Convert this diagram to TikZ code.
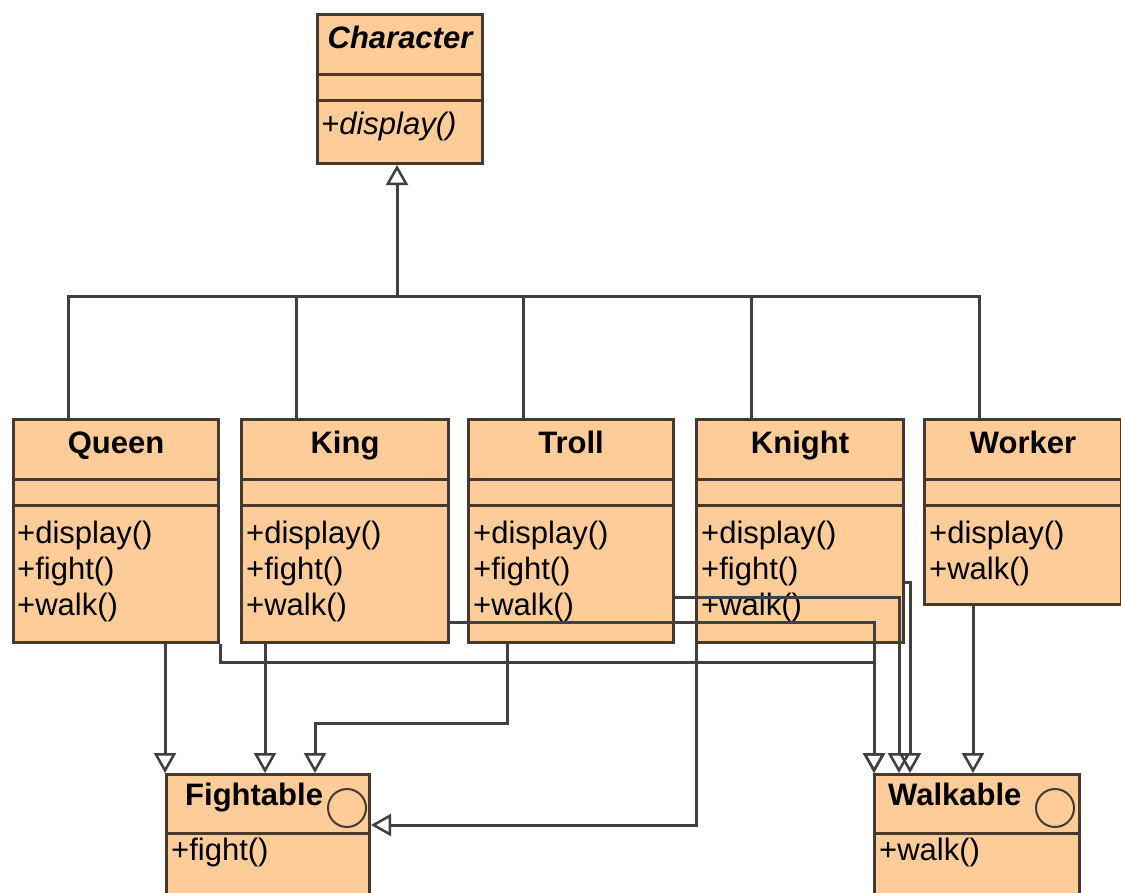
\documentclass[tikz,border=0pt]{standalone}
\usepackage{fontspec}
\setmainfont{Liberation Sans}
\usetikzlibrary{arrows.meta,calc}
\definecolor{classfill}{RGB}{253,204,153}
\definecolor{classline}{RGB}{70,58,48}
\definecolor{wire}{RGB}{64,64,64}

% a class box: name, x, y, width, height, title
\newcommand{\drawclass}[6]{%
  \node[classbox, minimum width=#4pt, minimum height=#5pt] (#1) at (#2,#3) {};
  \draw[sep] ($(#1.north west)+(0,61)$) -- ($(#1.north east)+(0,61)$);
  \draw[sep] ($(#1.north west)+(0,87)$) -- ($(#1.north east)+(0,87)$);
  \node[title] (#1-title) at ($(#1.north)+(0,35)$) {#6};
}

\begin{document}
\begin{tikzpicture}[x=1pt,y=-1pt,
  classbox/.style={draw=classline, fill=classfill, line width=3pt, rectangle, inner sep=0pt, anchor=north west},
  sep/.style={draw=classline, line width=3pt},
  title/.style={font=\fontsize{31}{36}\selectfont\bfseries, anchor=base, inner sep=0pt},
  member/.style={font=\fontsize{31}{36}\selectfont, anchor=base west, inner sep=0pt},
  wirestyle/.style={draw=wire, line width=3pt},
  inherit/.style={wirestyle, -{Triangle[open, length=20pt, width=22pt, line width=2.5pt]}},
  realize/.style={wirestyle, -{Triangle[open, length=20pt, width=22pt, line width=2.5pt]}},
  lollipop/.style={draw=classline, line width=2pt},
]
\useasboundingbox[fill=white] (0,0) rectangle (1121,892);
\clip (0,0) rectangle (1121,892);

% abstract base class
\drawclass{character}{316}{13}{165}{149}{\itshape Character}
\node[member, font=\fontsize{31}{36}\selectfont\itshape] (character-m1) at ($(character.north west)+(5,121)$) {+display()};

% concrete characters
\drawclass{queen}{12}{418}{205}{223}{Queen}
\node[member] (queen-m1) at ($(queen.north west)+(5,125)$) {+display()};
\node[member] (queen-m2) at ($(queen.north west)+(5,161)$) {+fight()};
\node[member] (queen-m3) at ($(queen.north west)+(5,197)$) {+walk()};

\drawclass{king}{240}{418}{207}{223}{King}
\node[member] (king-m1) at ($(king.north west)+(6,125)$) {+display()};
\node[member] (king-m2) at ($(king.north west)+(6,161)$) {+fight()};
\node[member] (king-m3) at ($(king.north west)+(6,197)$) {+walk()};

\drawclass{troll}{467}{418}{205}{223}{Troll}
\node[member] (troll-m1) at ($(troll.north west)+(6,125)$) {+display()};
\node[member] (troll-m2) at ($(troll.north west)+(6,161)$) {+fight()};
\node[member] (troll-m3) at ($(troll.north west)+(6,197)$) {+walk()};

\drawclass{knight}{695}{418}{207}{223}{Knight}
\node[member] (knight-m1) at ($(knight.north west)+(6,125)$) {+display()};
\node[member] (knight-m2) at ($(knight.north west)+(6,161)$) {+fight()};
\node[member] (knight-m3) at ($(knight.north west)+(6,197)$) {+walk()};

\drawclass{worker}{923}{418}{197}{185}{Worker}
\node[member] (worker-m1) at ($(worker.north west)+(6,125)$) {+display()};
\node[member] (worker-m2) at ($(worker.north west)+(6,161)$) {+walk()};

% interfaces
\node[classbox, minimum width=203pt, minimum height=130pt] (fightable) at (165,773) {};
\draw[sep] ($(fightable.north west)+(0,60)$) -- ($(fightable.north east)+(0,60)$);
\node[title, anchor=base west] (fightable-title) at ($(fightable.north west)+(20,32)$) {Fightable};
\draw[lollipop] ($(fightable.north east)+(-24,35)$) circle[radius=19];
\node[member] (fightable-m1) at ($(fightable.north west)+(6,87)$) {+fight()};

\node[classbox, minimum width=205pt, minimum height=130pt] (walkable) at (873,773) {};
\draw[sep] ($(walkable.north west)+(0,60)$) -- ($(walkable.north east)+(0,60)$);
\node[title, anchor=base west] (walkable-title) at ($(walkable.north west)+(15,32)$) {Walkable};
\draw[lollipop] ($(walkable.north east)+(-26,35)$) circle[radius=19];
\node[member] (walkable-m1) at ($(walkable.north west)+(6,87)$) {+walk()};

% generalization tree
\coordinate (bus) at (397,296);
\draw[inherit] (bus) -- (bus |- character.south);
\foreach \c in {queen,king,troll,knight,worker}
  \draw[wirestyle] ($(\c.north west)+(56,0)$) |- (bus);

% realizations of Fightable
\draw[realize] (queen.south west -| fightable.north west) -- (fightable.north west);
\draw[realize] ($(king.south west)+(25,0)$) coordinate (kf) -- (kf |- fightable.north);
\draw[realize] ($(troll.south west)+(40,0)$) -- ++(0,79) -| ($(fightable.north west)+(150,0)$);
\draw[realize] ($(knight.south west)+(1,0)$) |- ($(fightable.north east)+(0,52)$);

% realizations of Walkable
\draw[realize] (queen.south east) -- ++(0,18) -| ($(walkable.north west)+(1,0)$);
\draw[realize] ($(king.north east)+(0,204)$) -| ($(walkable.north west)+(1,0)$);
\draw[realize] ($(troll.north east)+(0,179)$) -| ($(walkable.north west)+(26,0)$);
\draw[realize] ($(knight.north east)+(0,164)$) -| ($(walkable.north west)+(37,0)$);
\draw[realize] ($(worker.south west)+(50,0)$) coordinate (ww) -- (ww |- walkable.north);
\end{tikzpicture}
\end{document}
